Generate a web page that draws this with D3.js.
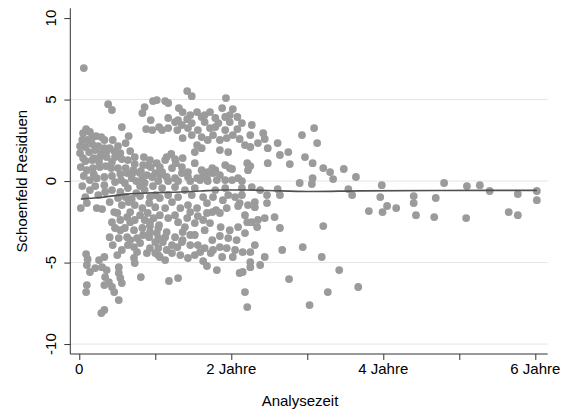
<!DOCTYPE html>
<html>
<head>
<meta charset="utf-8">
<script src="https://cdn.jsdelivr.net/npm/d3@7"></script>
<style>
  html, body { margin: 0; padding: 0; background: #ffffff; }
  svg { display: block; font-family: "Liberation Sans", Arial, sans-serif; }
</style>
</head>
<body>
<svg id="chart" width="567" height="414"></svg>
<script>
// Schoenfeld residuals: [analysis time in years, residual]
const residuals = [
  [0.06,6.93],[0.09,3.19],[0.14,3.01],[0.04,2.52],[0.11,2.52],[0.08,2.09],[0.17,2.27],[0.01,1.72],[0.13,1.78],[0.08,1.23],
  [0.17,1.29],[0.10,0.67],[0.18,0.80],[0.14,0.06],[0.06,0.31],[0.08,-0.98],[0.02,-1.66],[0.10,-1.35],[0.23,-1.66],[0.30,-1.72],
  [0.38,4.72],[0.43,4.36],[0.56,3.31],[0.65,2.76],[0.83,4.17],[0.86,4.54],[0.97,4.91],[1.02,4.97],[1.13,4.91],[1.17,4.79],
  [1.31,4.48],[1.42,5.52],[1.48,5.21],[1.93,5.09],[0.94,3.74],[0.88,3.19],[0.96,3.13],[1.05,3.31],[1.17,3.87],[1.26,3.62],[1.17,3.25],
  [0.22,2.76],[0.29,2.70],[0.25,2.15],[0.33,2.02],[0.40,2.02],[0.46,1.84],[0.54,1.72],[0.19,1.41],[0.27,1.47],[0.36,1.47],
  [0.47,1.47],[0.56,1.35],[0.27,0.86],[0.35,0.92],[0.42,0.80],[0.51,0.80],[0.61,0.80],[0.71,0.67],[0.73,1.04],[0.81,0.61],
  [0.84,0.98],[0.90,0.98],[0.94,0.86],[1.02,1.10],[0.85,1.47],[1.15,1.47],[1.21,1.66],[1.27,1.10],[1.36,1.41],[0.23,0.18],
  [0.33,0.25],[0.43,0.31],[0.54,0.43],[0.55,0.06],[0.63,0.49],[0.69,0.18],[0.72,0.55],[0.80,0.49],[0.83,0.12],[0.89,0.37],
  [0.96,0.25],[1.00,0.49],[1.06,0.37],[1.15,0.25],[1.26,0.18],[1.35,0.49],[1.43,0.25],[1.55,0.18],[1.68,0.25],[1.76,0.49],
  [1.85,0.37],[0.47,-0.06],[0.60,-0.12],[0.75,0.00],[0.86,-0.12],[1.04,0.00],[1.17,0.00],[1.30,0.00],[1.46,0.00],[1.69,0.00],
  [2.01,0.06],[2.14,0.00],[0.34,-0.67],[0.43,-0.55],[0.54,-0.67],[0.64,-0.43],[0.75,-0.74],[0.86,-0.55],[0.93,-0.98],[0.51,-1.04],[0.69,-1.10],
  [0.46,-1.90],[0.56,-1.47],[0.65,-1.29],[0.73,-1.47],[0.83,-1.66],[0.92,-1.35],[1.00,-1.60],[0.43,-2.52],[0.54,-2.39],[0.63,-2.21],
  [0.73,-2.39],[0.86,-2.39],[0.98,-2.27],[1.05,-2.70],[0.47,-2.88],[0.60,-2.88],[0.72,-3.01],[0.83,-2.88],[0.93,-3.13],[1.02,-3.19],
  [0.40,-3.44],[0.52,-3.50],[0.63,-3.44],[0.76,-3.50],[0.92,-3.44],[1.00,-3.74],[0.56,-4.23],[0.50,-4.54],[0.72,-4.05],[0.76,-4.36],
  [0.72,-4.72],[0.73,-5.03],[0.93,-4.11],[1.00,-4.42],[1.06,-4.66],[0.89,-4.42],
  [0.09,-4.48],[0.11,-4.79],[0.10,-5.15],[0.14,-5.58],[0.21,-5.34],[0.26,-4.85],[0.33,-4.66],[0.30,-5.28],[0.36,-5.46],[0.34,-5.89],
  [0.39,-6.20],[0.33,-6.38],[0.43,-6.50],[0.46,-6.81],[0.52,-5.28],[0.52,-5.64],[0.54,-5.95],[0.56,-6.26],[0.10,-6.38],[0.09,-6.81],
  [0.52,-7.30],[0.33,-7.91],[0.29,-8.10],[0.81,-5.89],[1.18,-6.13],[1.30,-5.95],
  [1.06,-1.04],[1.22,-1.29],[1.33,-1.66],[1.43,-1.47],[1.55,-1.66],[1.68,-1.35],[1.76,-0.98],[1.89,-1.17],[2.05,-0.98],[2.11,-1.35],
  [1.94,-1.66],[2.09,-1.53],[1.75,-1.90],[1.85,-1.96],[1.06,-2.09],[1.17,-2.27],[1.30,-2.52],[1.42,-2.27],[1.56,-2.15],[1.68,-1.96],
  [1.80,-1.78],[1.52,-2.58],[1.72,-2.58],[1.86,-2.82],[1.98,-3.01],[2.18,-3.19],[2.21,-2.52],[2.18,-2.09],[1.04,-2.88],[1.15,-3.13],
  [1.26,-3.44],[1.36,-3.13],[1.52,-3.31],[1.96,-3.50],[1.10,-3.74],[1.22,-3.93],[1.35,-3.74],[1.04,-3.50],[1.04,-4.11],[1.15,-4.23],
  [1.22,-4.42],[1.29,-4.05],[1.36,-3.62],[1.56,-3.93],[1.65,-4.11],[1.76,-4.23],[1.85,-4.05],[1.94,-4.11],[2.05,-4.23],[2.15,-4.36],
  [1.43,-4.72],[1.63,-4.91],[1.68,-5.21],[1.81,-5.46],[1.88,-4.66],[2.02,-4.66],[1.73,-4.42],[1.04,-4.54],[2.11,-5.64],[2.15,-5.58],
  [2.18,-6.81],[2.21,-7.73],
  [1.55,4.23],[1.72,4.23],[1.88,4.48],[2.02,4.42],[1.36,4.23],[1.30,3.74],[1.42,3.80],[1.61,3.93],[1.79,3.87],[1.92,3.93],
  [2.08,3.93],[1.35,3.44],[1.48,3.56],[1.65,3.62],[1.83,3.56],[1.98,3.62],[2.14,3.56],[1.09,3.13],[1.29,3.13],[1.43,3.25],
  [1.56,3.13],[1.72,3.25],[1.92,3.13],[2.08,3.19],[1.36,2.64],[1.48,2.82],[1.61,2.70],[1.76,2.82],[1.94,2.64],[2.11,2.58],
  [2.18,2.21],[1.55,2.21],[1.61,2.02],[1.52,1.78],[1.85,1.90],[1.96,1.78],[1.13,1.29],[1.26,1.35],[1.52,1.10],[1.79,0.67],
  [1.92,0.98],[1.98,0.80],[2.21,1.10],[1.09,0.55],[1.22,0.80],[1.35,0.86],[1.43,0.55],[1.61,0.67],[1.69,0.55],[2.27,3.44],
  [2.42,2.94],[2.25,2.82],[2.44,2.58],[2.35,2.33],[2.25,2.09],[2.61,2.33],[2.48,2.02],[2.93,2.82],[3.09,3.25],[3.13,2.33],
  [2.75,1.78],[2.64,1.60],[2.97,1.47],[3.07,1.10],[3.21,0.80],[3.30,0.55],[3.34,0.12],[3.48,0.74],[3.64,0.25],[2.77,1.04],
  [2.48,1.10],[2.25,0.92],[2.22,0.67],[2.01,0.74],[1.75,0.80],[1.63,0.37],[1.59,0.06],[1.81,0.06],[1.92,0.06],[2.09,0.18],
  [1.09,-0.43],[1.26,-0.37],[1.39,-0.55],[1.52,-0.43],[1.79,-0.55],[1.92,-0.43],[1.00,-0.86],[1.17,-0.86],[1.30,-0.98],[1.48,-0.86],
  [1.63,-0.98],[1.96,-0.86],[2.14,-0.86],[2.14,-0.43],[2.27,-0.37],[2.38,-0.55],[2.90,-0.12],[3.06,-0.18],[3.07,0.18],[2.61,-0.49],
  [2.64,-0.86],[2.47,-0.86],[2.31,-1.29],[2.47,-1.35],[2.22,-1.47],[2.31,-1.60],[3.54,-0.49],[3.59,-0.86],
  [2.27,-2.52],[2.35,-2.39],[2.44,-2.27],[2.57,-2.21],[2.34,-2.82],[2.64,-2.88],[3.21,-2.76],[2.94,-4.05],[2.67,-4.23],[2.31,-3.93],
  [2.25,-4.36],[2.44,-4.66],[2.38,-5.15],[2.25,-4.97],[2.25,-5.28],[3.19,-4.66],[3.42,-5.46],[2.76,-6.01],[3.27,-6.81],[3.03,-7.61],[3.67,-6.50],
  [3.98,-0.25],[3.96,-0.98],[3.81,-1.84],[3.99,-1.90],[4.05,-1.53],[4.17,-1.66],[4.40,-0.92],[4.40,-1.35],[4.43,-2.09],[4.69,-1.04],
  [4.67,-2.21],[4.80,-0.12],[5.10,-0.31],[5.09,-2.27],[5.27,-0.25],[5.40,-0.61],[5.65,-1.90],[5.77,-0.80],[5.77,-2.09],[6.02,-0.61],[6.02,-1.17],
  // dense early cluster
  [0.05,2.94],[0.18,2.70],[0.01,2.15],[0.21,1.90],[0.29,1.72],[0.36,1.84],[0.05,1.41],[0.26,1.17],[0.43,1.17],[0.64,1.29],
  [0.73,1.47],[0.02,0.86],[0.19,0.43],[0.04,-0.31],[0.21,-0.31],[0.33,-0.25],[0.14,-0.55],[0.25,-0.86],[0.61,-0.98],[0.80,-0.92],
  [0.40,-1.29],[0.80,-0.31],[0.97,-0.31],[0.93,1.29],[1.06,0.86],[0.67,1.84],[0.61,2.33],[0.44,2.52],[0.33,2.52],[0.51,2.15],
  [0.50,-1.96],[0.67,-1.90],[0.90,-1.96],[1.13,-1.66],[1.46,-1.90],[1.63,-2.39],[1.39,-2.82],[1.26,-2.09],[0.80,-3.80],[0.64,-3.93],
  [1.13,-4.85],[1.33,-4.54],[1.52,-4.54],[1.75,-3.62],[1.85,-3.37],[2.09,-2.82],[2.07,-3.62],[0.93,-2.52],[1.65,-3.01],[1.46,-3.93],
  [0.67,-2.52],[0.80,-2.09],[0.93,-2.76],[0.54,-3.01],[0.84,-3.31],[0.67,-3.62],[0.44,-3.93],[1.13,-3.44],[1.46,-3.31],[1.59,-4.36],
  [1.65,4.05],[1.98,4.05],[1.79,3.31],[2.02,2.82],[1.85,2.52],[1.46,4.05],[1.69,2.52]
];

// Lowess smooth of the residuals
const smoothX = [0.02, 0.27, 0.63, 0.97, 1.33, 1.59, 1.89, 2.20, 2.64, 3.07, 3.69, 4.74, 6.02];
const smoothY = [-1.10, -1.01, -0.80, -0.72, -0.67, -0.61, -0.55, -0.55, -0.60, -0.64, -0.60, -0.58, -0.57];

// Axis ticks and labels
const yTicks = [-10, -5, 0, 5, 10];
const yGrid = [-10, -5, 0, 5];
const xTicks = [0, 1, 2, 3, 4, 5, 6];
const xLabelTicks = [0, 2, 4, 6];
const xLabels = ["0", "2 Jahre", "4 Jahre", "6 Jahre"];
const xTitle = "Analysezeit";
const yTitle = "Schoenfeld Residuen";

const svg = d3.select("#chart");
const mLeft = 70.3, mRight = 547.7, mTop = 8.3, mBottom = 354;

const x = d3.scaleLinear().domain([-0.118, 6.163]).range([mLeft, mRight]);
const y = d3.scaleLinear().domain([-10.61, 10.6]).range([mBottom, mTop]);

// gridlines
svg.append("g").selectAll("line").data(yGrid).join("line")
  .attr("x1", mLeft).attr("x2", mRight)
  .attr("y1", d => y(d)).attr("y2", d => y(d))
  .attr("stroke", "#e4e4e4").attr("stroke-width", 1);

// points
svg.append("g").selectAll("circle").data(residuals).join("circle")
  .attr("cx", d => x(d[0])).attr("cy", d => y(d[1]))
  .attr("r", 3.9).attr("fill", "#9b9b9b");

// smooth line
const line = d3.line().x(d => x(d[0])).y(d => y(d[1])).curve(d3.curveMonotoneX);
svg.append("path").datum(smoothX.map((v, i) => [v, smoothY[i]]))
  .attr("d", line).attr("fill", "none")
  .attr("stroke", "#505050").attr("stroke-width", 1.6);

// y axis
const yAxis = d3.axisLeft(y).tickValues(yTicks).tickSize(6).tickFormat("");
const gy = svg.append("g").attr("transform", `translate(${mLeft},0)`).call(yAxis);
gy.select(".domain").attr("d", `M0,${mTop}V${mBottom}`).attr("stroke", "#333");
gy.selectAll(".tick line").attr("stroke", "#333");
svg.append("g").selectAll("text").data(yTicks).join("text")
  .attr("transform", d => `translate(56,${y(d)}) rotate(-90)`)
  .attr("text-anchor", "middle")
  .attr("font-size", 15).attr("fill", "#000")
  .text(d => d);

// x axis
const xAxis = d3.axisBottom(x).tickValues(xTicks).tickSize(6).tickFormat("");
const gx = svg.append("g").attr("transform", `translate(0,${mBottom})`).call(xAxis);
gx.select(".domain").attr("d", `M${mLeft},0H${mRight}`).attr("stroke", "#333");
gx.selectAll(".tick line").attr("stroke", "#333");
svg.append("g").selectAll("text").data(xLabelTicks).join("text")
  .attr("x", d => x(d)).attr("y", 374)
  .attr("text-anchor", "middle")
  .attr("font-size", 15).attr("fill", "#000")
  .text((d, i) => xLabels[i]);

// titles
svg.append("text").attr("x", 300).attr("y", 406)
  .attr("text-anchor", "middle").attr("font-size", 15).attr("fill", "#000")
  .text(xTitle);
svg.append("text").attr("transform", `translate(27,${(mTop + mBottom) / 2}) rotate(-90)`)
  .attr("text-anchor", "middle").attr("font-size", 15).attr("fill", "#000")
  .text(yTitle);
</script>
</body>
</html>
